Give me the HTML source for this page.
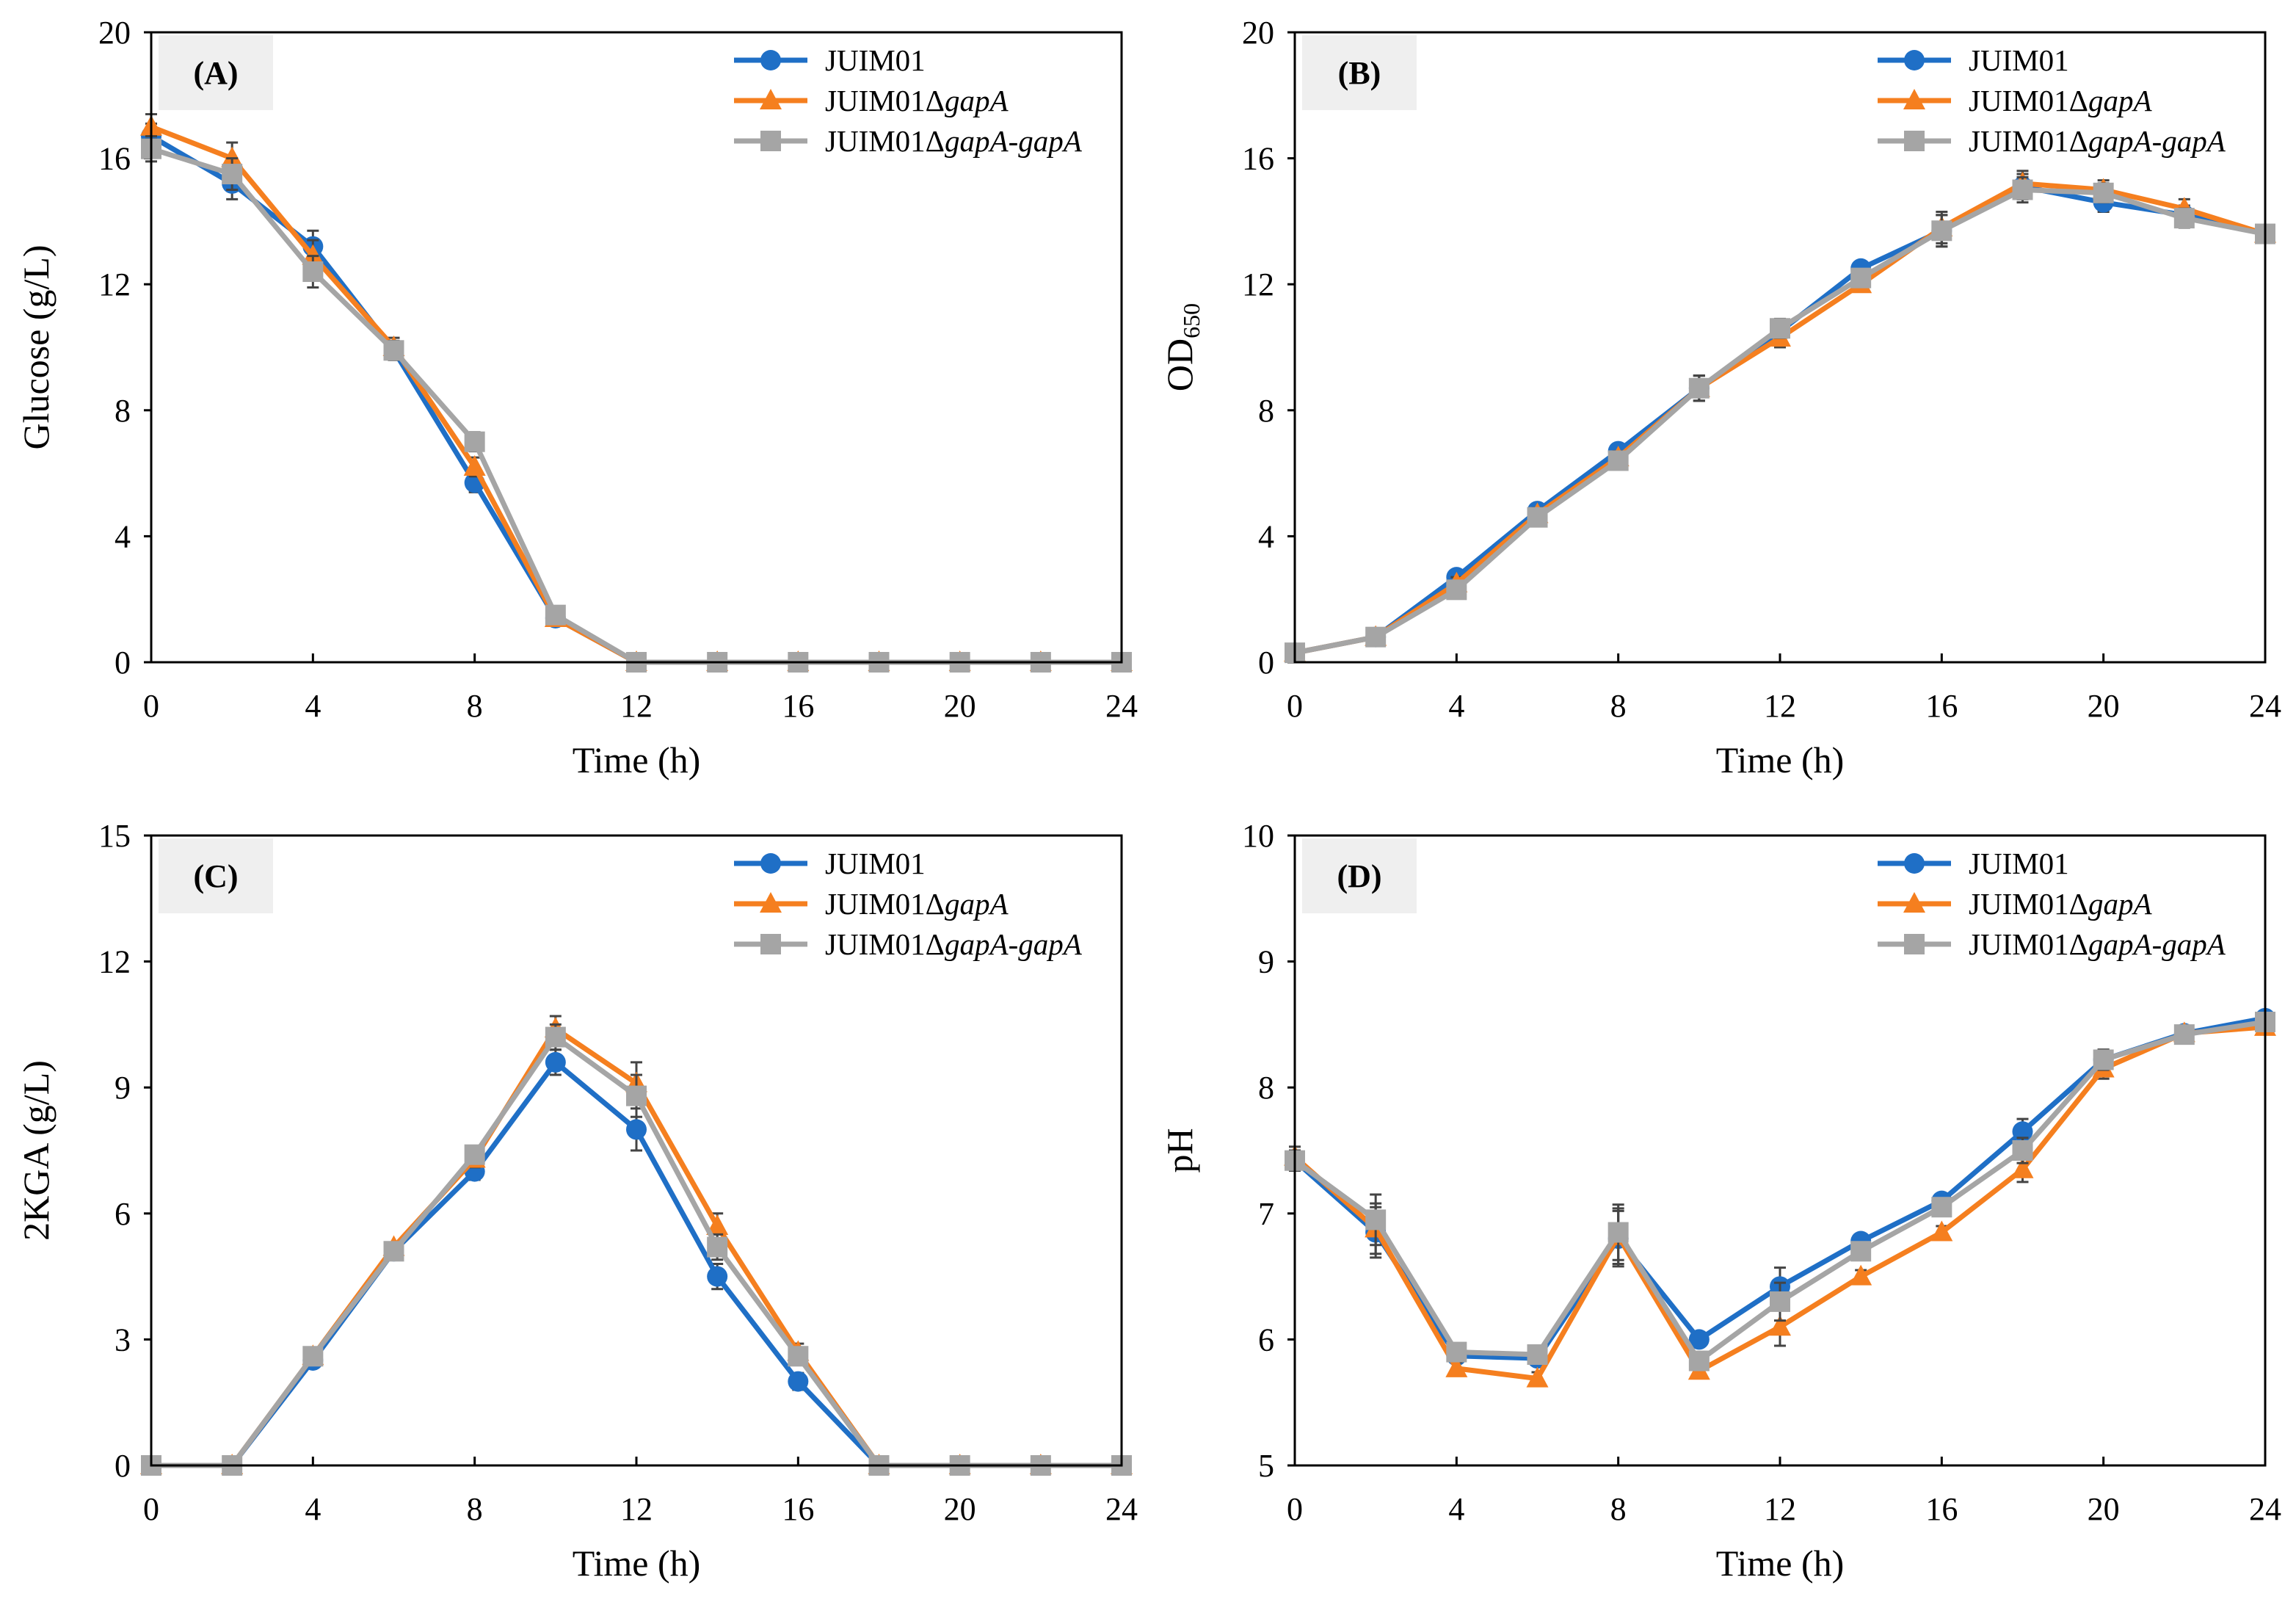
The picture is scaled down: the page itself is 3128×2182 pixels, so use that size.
<!DOCTYPE html>
<html><head><meta charset="utf-8"><style>
html,body{margin:0;padding:0;background:#fff;}
svg{display:block;font-family:"Liberation Serif",serif;}
</style></head><body>
<svg id="fig" width="3128" height="2182" viewBox="0 0 3128 2182" xmlns="http://www.w3.org/2000/svg"></svg>
<script>
const times=[0,2,4,6,8,10,12,14,16,18,20,22,24];
const xTicks=[0,4,8,12,16,20,24];
const seriesNames=["JUIM01","JUIM01\u0394gapA","JUIM01\u0394gapA-gapA"];
// Panel A glucose
const glcBlue=[16.7,15.2,13.2,9.9,5.7,1.4,0,0,0,0,0,0,0];
const glcOrange=[17.0,16.0,12.9,10.0,6.2,1.4,0,0,0,0,0,0,0];
const glcGray=[16.3,15.5,12.4,9.9,7.0,1.5,0,0,0,0,0,0,0];
const glcErr=[0.4,0.5,0.5,0.3,0.3,0.2,0,0,0,0,0,0,0];
const glcTicks=[0,4,8,12,16,20];
// Panel B OD
const odBlue=[0.3,0.8,2.7,4.8,6.7,8.7,10.5,12.5,13.7,15.1,14.6,14.2,13.6];
const odOrange=[0.3,0.8,2.5,4.7,6.5,8.7,10.3,12.0,13.8,15.2,15.0,14.4,13.6];
const odGray=[0.3,0.8,2.3,4.6,6.4,8.7,10.6,12.2,13.7,15.0,14.9,14.1,13.6];
const odErr=[0.1,0.1,0.2,0.2,0.2,0.4,0.3,0.2,0.5,0.4,0.3,0.3,0.2];
const odTicks=[0,4,8,12,16,20];
// Panel C 2KGA
const kgaBlue=[0,0,2.5,5.1,7.0,9.6,8.0,4.5,2.0,0,0,0,0];
const kgaOrange=[0,0,2.6,5.2,7.3,10.4,9.1,5.7,2.7,0,0,0,0];
const kgaGray=[0,0,2.6,5.1,7.4,10.2,8.8,5.2,2.6,0,0,0,0];
const kgaErr=[0,0,0.1,0.1,0.2,0.3,0.5,0.3,0.2,0,0,0,0];
const kgaTicks=[0,3,6,9,12,15];
// Panel D pH
const phBlue=[7.42,6.85,5.87,5.85,6.8,6.0,6.42,6.78,7.1,7.65,8.22,8.43,8.55];
const phOrange=[7.45,6.88,5.77,5.69,6.82,5.75,6.1,6.5,6.85,7.35,8.15,8.43,8.48];
const phGray=[7.42,6.95,5.9,5.88,6.85,5.83,6.3,6.7,7.05,7.5,8.22,8.42,8.52];
const phErr=[0.08,0.2,0.05,0.05,0.22,0.05,0.15,0.05,0.05,0.1,0.08,0.03,0.03];
const phTicks=[5,6,7,8,9,10];

const NS="http://www.w3.org/2000/svg";
const svg=document.getElementById('fig');
const colors=["#1f6fc6","#f57f1f","#a5a5a5"];
function mk(tag,attrs,parent){const e=document.createElementNS(NS,tag);for(const k in attrs)e.setAttribute(k,attrs[k]);(parent||svg).appendChild(e);return e;}

function panel(o){
  const g=mk('g',{});
  
  
  const L=o.L,R=o.L+1322,T=o.T,B=o.T+858;
  const ymin=o.yt[0],ymax=o.yt[o.yt.length-1];
  const xs=v=>L+(v-0)/24*(R-L);
  const ys=v=>B-(v-ymin)/(ymax-ymin)*(B-T);
  const lb=mk('rect',{x:L+10,y:T+4,width:156,height:102,fill:'#efefef'},g);
  
  
  const lt=mk('text',{x:L+88,y:T+70,'font-size':44,'font-weight':'bold','text-anchor':'middle'},g);
  lt.textContent=o.label;
  
  
  o.yt.forEach(v=>{
    const y=ys(v);
    mk('line',{x1:L-10,x2:L,y1:y,y2:y,stroke:'#000','stroke-width':3},g);
    const t=mk('text',{x:L-28,y:y+15,'font-size':44,'text-anchor':'end'},g);
    t.textContent=v;
    
    
  });
  xTicks.forEach(v=>{
    const x=xs(v);
    mk('line',{x1:x,x2:x,y1:B,y2:B-12,stroke:'#000','stroke-width':3},g);
    const t=mk('text',{x:x,y:B+74,'font-size':44,'text-anchor':'middle'},g);
    t.textContent=v;
    
    
  });
  const xt=mk('text',{x:(L+R)/2,y:B+150,'font-size':50,'text-anchor':'middle'},g);
  xt.textContent='Time (h)';
  
  
  const yt=mk('text',{x:0,y:0,'font-size':50,'text-anchor':'middle',transform:`translate(${L-140},${(T+B)/2}) rotate(-90)`},g);
  yt.innerHTML=o.ytitle;
  
  
  o.series.forEach((d,si)=>{
    const sg=mk('g',{},g);
    
    
    times.forEach((t,i)=>{
      const e=o.err[i];
      if(e>0){const x=xs(t);
        mk('line',{x1:x,x2:x,y1:ys(d[i]-e),y2:ys(d[i]+e),stroke:'#444','stroke-width':3},sg);
        mk('line',{x1:x-8,x2:x+8,y1:ys(d[i]+e),y2:ys(d[i]+e),stroke:'#444','stroke-width':3},sg);
        mk('line',{x1:x-8,x2:x+8,y1:ys(d[i]-e),y2:ys(d[i]-e),stroke:'#444','stroke-width':3},sg);}
    });
    const pts=times.map((t,i)=>xs(t)+','+ys(d[i])).join(' ');
    const pl=mk('polyline',{points:pts,fill:'none',stroke:colors[si],'stroke-width':7,'stroke-linejoin':'round'},sg);
    
    
    times.forEach((t,i)=>{
      const x=xs(t),y=ys(d[i]);let m;
      if(si===0)m=mk('circle',{cx:x,cy:y,r:14,fill:colors[0]},sg);
      else if(si===1)m=mk('polygon',{points:`${x},${y-16} ${x-15},${y+12} ${x+15},${y+12}`,fill:colors[1]},sg);
      else m=mk('rect',{x:x-14,y:y-14,width:28,height:28,fill:colors[2]},sg);
      
      
    });
  });
  const fr=mk('rect',{x:L,y:T,width:R-L,height:B-T,fill:'none',stroke:'#000','stroke-width':3},g);
  
  
  const lx=L+794;
  const labels=['JUIM01','JUIM01\u0394<tspan font-style="italic">gapA</tspan>','JUIM01\u0394<tspan font-style="italic">gapA-gapA</tspan>'];
  [0,1,2].forEach(i=>{
    const y=T+38+i*55;
    const lg=mk('g',{},g);
    
    
    mk('line',{x1:lx,x2:lx+100,y1:y,y2:y,stroke:colors[i],'stroke-width':7},lg);
    const x=lx+50;
    if(i===0)mk('circle',{cx:x,cy:y,r:14,fill:colors[0]},lg);
    else if(i===1)mk('polygon',{points:`${x},${y-16} ${x-15},${y+12} ${x+15},${y+12}`,fill:colors[1]},lg);
    else mk('rect',{x:x-14,y:y-14,width:28,height:28,fill:colors[2]},lg);
    const t=mk('text',{x:lx+124,y:y+14,'font-size':41},lg);
    t.innerHTML=labels[i];
  });
}
panel({id:'glucose',label:'(A)',L:206,T:44,yt:glcTicks,ytitle:'Glucose (g/L)',series:[glcBlue,glcOrange,glcGray],err:glcErr});
panel({id:'od',label:'(B)',L:1764,T:44,yt:odTicks,ytitle:'OD<tspan font-size="32" dy="10">650</tspan>',series:[odBlue,odOrange,odGray],err:odErr});
panel({id:'kga',label:'(C)',L:206,T:1138,yt:kgaTicks,ytitle:'2KGA (g/L)',series:[kgaBlue,kgaOrange,kgaGray],err:kgaErr});
panel({id:'ph',label:'(D)',L:1764,T:1138,yt:phTicks,ytitle:'pH',series:[phBlue,phOrange,phGray],err:phErr});
</script>
</body></html>
